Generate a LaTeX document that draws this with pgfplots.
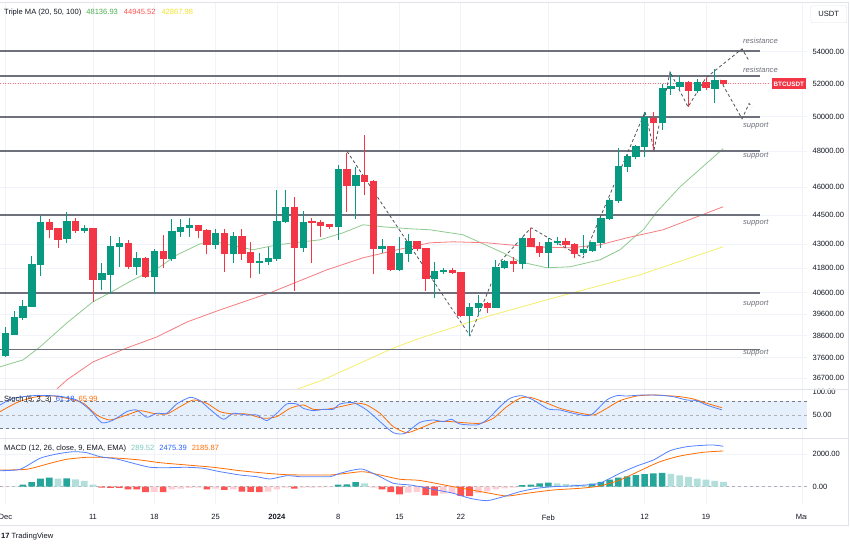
\documentclass[border=0pt]{standalone}
\usepackage{pgfplots}
\pgfplotsset{compat=1.18}
\usepackage{pgfplotstable}
\usepackage{fontspec}
\setmainfont{Liberation Sans}

\definecolor{bull}{HTML}{089981}
\definecolor{bear}{HTML}{F23645}
\definecolor{tvgrid}{HTML}{F0F3FA}
\definecolor{tvline}{HTML}{E0E3EB}
\definecolor{tvtext}{HTML}{131722}
\definecolor{tvgray}{HTML}{787B86}
\definecolor{srline}{HTML}{6E717B}
\definecolor{zigzag}{HTML}{50535E}
\definecolor{ma20}{HTML}{8FCB8F}
\definecolor{ma50}{HTML}{F77C80}
\definecolor{ma100}{HTML}{F5EE6A}
\definecolor{legG}{HTML}{4CAF50}
\definecolor{legR}{HTML}{FF5252}
\definecolor{legY}{HTML}{F2E22E}
\definecolor{kblue}{HTML}{2962FF}
\definecolor{dorange}{HTML}{FF6D00}
\definecolor{hteal}{HTML}{26A69A}
\definecolor{hteallt}{HTML}{B2DFDB}
\definecolor{hred}{HTML}{FF5252}
\definecolor{hredlt}{HTML}{FFCDD2}
\definecolor{band}{HTML}{E6F0FC}

% daily BTCUSDT candles, d = days since 1 Dec 2023
\pgfplotstableread{
d o h l c
0 37730 39000 37640 38725
1 38679 39745 38633 39465
2 39465 40266 39325 39980
3 39980 42415 39935 41965
4 41965 44467 41425 44103
5 44103 44311 43327 43739
6 43791 43843 42819 43225
7 43276 44680 43072 44155
8 44155 44364 43584 43687
9 43687 43999 43584 43791
10 43791 43843 40171 41229
11 41229 42065 40744 41523
12 41474 43430 40553 42870
13 42870 43379 41868 43021
14 43021 43225 41768 41868
15 41868 42616 41474 42265
16 42265 42365 41327 41376
17 41376 42768 40553 42616
18 42616 43482 41818 42265
19 42265 44311 42165 43635
20 43635 44311 43379 43843
21 43843 44364 43379 43947
22 43947 43999 43327 43687
23 43687 43791 42515 42971
24 42971 43791 42768 43533
25 43533 43791 41621 42515
26 42515 43635 42065 43379
27 43379 43791 42215 42515
28 42566 43123 41327 42065
29 42065 42566 41523 42115
30 42115 42870 41965 42265
31 42265 45856 42165 44155
32 44155 45856 44103 44891
33 44891 45478 40696 42819
34 42819 44732 42616 44103
35 44155 44364 42065 44103
36 44103 44259 43379 43947
37 43999 44051 43791 43895
38 43895 47232 43225 46953
39 46953 47907 44680 46074
40 46074 47119 44311 46622
41 46622 48934 45586 46293
42 46293 46402 41523 42768
43 42768 43276 42566 42870
44 42870 42920 41670 41719
45 41719 43379 41670 42515
46 42515 43533 42115 43123
47 43123 43174 42667 42768
48 42768 42819 40696 41278
49 41278 42115 40361 41621
50 41621 41818 41523 41670
51 41670 41818 41523 41572
52 41572 41621 39465 39558
53 39558 40123 38588 39887
54 39887 40505 39558 40075
55 40075 40171 39651 39935
56 39935 42215 39887 41818
57 41818 42215 41768 42115
58 42115 42365 41621 42015
59 42015 43379 41768 43276
60 43276 43843 42870 42870
61 42870 43123 42365 42566
62 42566 43327 41818 43072
63 43072 43379 42971 43123
64 43123 43327 42870 42971
65 42971 43072 42315 42515
66 42566 43482 42465 42717
67 42667 43123 42616 43072
68 43072 44415 42819 44311
69 44311 45426 44259 45264
70 45264 48191 45157 47119
71 47119 47850 46843 47680
72 47680 48363 47567 48248
73 48248 50285 47680 49931
74 49871 50285 48077 49635
75 49635 51978 49226 51671
76 51671 52720 51307 51794
77 51794 52472 51610 52040
78 52040 52162 50581 51549
79 51549 52285 51427 52040
80 52040 52347 51610 51732
81 51671 52907 50824 52162
82 52162 52223 51916 51978
}\candles

\begin{document}
\begin{tikzpicture}[x=1bp,y=1bp]
\fill[white] (0,0) rectangle (850,546);
\path[use as bounding box] (0,0) rectangle (850,546);

% ---------- price pane ----------
\begin{axis}[
  at={(0bp,157bp)}, anchor=south west,
  width=807bp, height=386bp, scale only axis,
  ymode=log, ymin=36245, ymax=57200,
  xmin=-0.62, xmax=91.54,
  axis line style={draw=none},
  xtick={0,10,17,24,31,38,45,52,62,73,80,91}, xticklabels={},
  ytick={36700,37600,38600,39600,40600,41800,43000,44500,46000,48000,50000,52000,54000},
  yticklabels={36700.00,37600.00,38600.00,39600.00,40600.00,41800.00,43000.00,44500.00,46000.00,48000.00,50000.00,52000.00,54000.00},
  yticklabel pos=right,
  yticklabel style={anchor=west, xshift=2bp, font=\fontsize{7.6}{8}\selectfont, text=tvtext},
  yminorticks=false, minor tick num=0,
  major tick length=0pt,
  grid=major, major grid style={tvgrid, line width=0.7bp},
  clip mode=individual,
]
% moving averages
\addplot[ma20, line width=0.8bp] coordinates {
(-0.62,37200) (2.01,37509) (3.95,38090) (7.03,39185) (10.0,40171) (11.94,40600)
(14.57,41229) (17.65,41868) (19.6,42465) (22.22,43021) (24.51,43072) (28.27,42717)
(31.02,42971) (35.93,43225) (38.55,43584) (40.84,43999) (43.12,43895) (46.2,43791)
(48.49,43739) (52.26,43482) (56.83,42566) (58.77,42115) (61.85,41818) (64.47,41868)
(67.9,42215) (70.18,42717) (72.12,43482) (72.85,43739) (74.4,44680) (77.04,46019) (81.95,48137)};
\addplot[ma50, line width=0.8bp] coordinates {
(5.89,36245) (7.03,36633) (10.0,37420) (13.89,38045) (17.31,38542) (20.74,39232)
(24.51,39792) (30.22,40600) (36.72,41719) (40.84,42315) (44.72,42717) (48.49,43072)
(51.11,43123) (55.0,43072) (59.91,42870) (64.47,42819) (67.9,42971) (70.98,43327)
(75.1,43739) (78.18,44276) (81.95,44945)};
\addplot[ma100, line width=0.8bp] coordinates {
(33.41,36245) (36.27,36633) (44.26,38030) (47.35,38483) (54.96,39480) (62.57,40348)
(72.47,41474) (81.95,42868)};
% support / resistance levels
\addplot[srline, line width=1.6bp] coordinates {(-0.62,54050) (86.17,54050)};
\addplot[srline, line width=1.6bp] coordinates {(-0.62,52470) (86.17,52470)};
\addplot[srline, line width=1.6bp] coordinates {(-0.62,49990) (86.17,49990)};
\addplot[srline, line width=1.6bp] coordinates {(-0.62,48000) (86.17,48000)};
\addplot[srline, line width=1.6bp] coordinates {(-0.62,44500) (86.17,44500)};
\addplot[srline, line width=1.6bp] coordinates {(-0.62,40600) (86.17,40600)};
\addplot[srline, line width=1.6bp] coordinates {(-0.62,37970) (86.17,37970)};
% last price line
\addplot[bear!70, line width=0.8bp, dash pattern=on 1bp off 1.5bp] coordinates {(-0.62,51978) (87.2,51978)};
% swing path and projections
\addplot[zigzag, line width=0.8bp, dash pattern=on 3bp off 2.5bp] coordinates {
(39.01,47990) (53.05,38588) (56.48,42115) (60.02,43843) (65.96,42315) (73.04,50285)
(74.07,48077) (75.9,52720) (77.95,50581) (80.0,52347) (84.12,54172) (84.92,53410)};
\addplot[zigzag, line width=0.8bp, dash pattern=on 3bp off 2.5bp] coordinates {
(81.6,52223) (84.12,49872) (84.92,50780) (85.26,50581)};
% candles
\pgfplotstablegetrowsof{\candles}
\pgfmathtruncatemacro\nrows{\pgfplotsretval-1}
\pgfplotsforeachungrouped \i in {0,...,\nrows}{%
  \pgfplotstablegetelem{\i}{d}\of\candles \let\cD\pgfplotsretval
  \pgfplotstablegetelem{\i}{o}\of\candles \let\cO\pgfplotsretval
  \pgfplotstablegetelem{\i}{h}\of\candles \let\cH\pgfplotsretval
  \pgfplotstablegetelem{\i}{l}\of\candles \let\cL\pgfplotsretval
  \pgfplotstablegetelem{\i}{c}\of\candles \let\cC\pgfplotsretval
  \ifnum\cC<\cO\relax \def\ccol{bear}\else\def\ccol{bull}\fi
  \pgfmathsetmacro\xa{\cD-0.36}%
  \pgfmathsetmacro\xb{\cD+0.36}%
  \edef\doit{%
    \noexpand\addplot[\ccol, line width=0.9bp, forget plot] coordinates {(\cD,\cL) (\cD,\cH)};
    \noexpand\addplot[fill=\ccol, draw=\ccol, line width=0.7bp, forget plot] coordinates {(\xa,\cO) (\xb,\cO) (\xb,\cC) (\xa,\cC)} --cycle;
  }\doit
}
% level labels
\begin{scope}[every node/.style={anchor=west, inner sep=0pt, text=srline, font=\fontsize{7.6}{8}\selectfont\itshape}]
\node at (axis cs:84.23,54684) {resistance};
\node at (axis cs:84.23,52845) {resistance};
\node at (axis cs:84.23,49461) {support};
\node at (axis cs:84.23,47737) {support};
\node at (axis cs:84.23,44103) {support};
\node at (axis cs:84.23,40076) {support};
\node at (axis cs:84.23,37820) {support};
\end{scope}
\node[anchor=east, fill=bear, text=white, inner sep=1.5bp, font=\fontsize{6.4}{6.4}\selectfont\bfseries, minimum height=11bp]
  at (axis cs:91.4,51978) {BTCUSDT};
\end{axis}

% ---------- stochastic pane ----------
\begin{axis}[
  at={(0bp,108bp)}, anchor=south west,
  width=807bp, height=49bp, scale only axis,
  xmin=-0.62, xmax=91.54, ymin=0, ymax=106.5,
  axis line style={draw=none},
  xtick={0,10,17,24,31,38,45,52,62,73,80,91}, xticklabels={},
  ytick={50,100}, yticklabels={50.00,100.00},
  yticklabel pos=right,
  yticklabel style={anchor=west, xshift=2bp, font=\fontsize{7.6}{8}\selectfont, text=tvtext},
  major tick length=0pt,
  xmajorgrids, major grid style={tvgrid, line width=0.7bp},
]
\addplot[fill=band, draw=none] coordinates {(-0.62,20) (91.54,20) (91.54,80) (-0.62,80)} --cycle;
\addplot[tvgray, line width=0.7bp, dash pattern=on 3bp off 3bp] coordinates {(-0.62,80) (91.54,80)};
\addplot[tvgray!60, line width=0.6bp, dash pattern=on 3bp off 3bp] coordinates {(-0.62,50) (91.54,50)};
\addplot[tvgray, line width=0.7bp, dash pattern=on 3bp off 3bp] coordinates {(-0.62,20) (91.54,20)};
\addplot[dorange, line width=0.8bp, smooth, tension=0.4] coordinates {
(-0.62,57.2) (1.29,76.8) (3.19,88.4) (5.09,92) (7.0,86.3) (8.9,75.4) (10.43,50) (11.94,39.1)
(13.85,50) (15.37,59.4) (16.89,53.6) (18.42,52.2) (19.94,68) (21.46,82.6) (22.99,75.4)
(24.51,57.2) (26.02,52.2) (27.55,52.2) (29.45,42.8) (30.98,46.4) (32.5,64.5) (34.02,71.7)
(35.16,62.3) (36.69,62.3) (38.21,68) (40.12,75.4) (41.26,71.7) (42.78,53.6) (44.3,24.6)
(45.83,11.5) (47.34,21.1) (49.25,35.5) (50.96,35.5) (52.29,33.3) (54.2,31.9) (55.71,42.8)
(57.25,68) (58.76,86.3) (59.91,88.4) (61.43,78.9) (63.33,64.5) (64.85,57.2) (67.14,50)
(68.67,64.5) (70.18,81.2) (72.09,91.3) (73.99,93.5) (75.52,92) (77.04,89.8) (78.56,84.8)
(80.08,75.4) (81.8,66)};
\addplot[kblue!80, line width=0.8bp, smooth, tension=0.4] coordinates {
(-0.62,71.7) (0.9,86.3) (3.19,92) (5.86,91.3) (8.14,82.6) (9.66,60.9) (11.0,33.3) (12.32,39.1)
(13.85,57.2) (14.99,60.9) (16.14,45) (17.28,53.6) (18.42,53.6) (19.56,73.9) (21.08,88.4)
(22.22,81.2) (23.36,62.3) (24.88,40.6) (26.02,53.6) (27.55,50) (28.7,50) (29.84,37.7)
(30.98,53.6) (32.12,73.9) (33.27,73.9) (34.02,64.5) (35.16,59.4) (36.3,62.3) (37.44,62.3)
(38.21,73.9) (39.73,76.8) (41.26,60.9) (42.78,35.5) (44.3,11.5) (45.63,10.1) (47.34,34)
(48.86,39.1) (50.01,35.5) (50.96,40.6) (51.91,30.4) (53.82,28.3) (54.96,39.1) (56.48,68)
(57.62,86.3) (58.96,92) (60.29,82.6) (62.0,63) (63.33,60.9) (64.85,53.6) (66.38,48.5)
(67.14,53.6) (68.67,82.6) (69.81,92) (70.95,91.3) (72.85,93.5) (74.75,92.8) (76.27,89.8)
(77.8,82.6) (78.94,81.2) (80.08,71.7) (81.8,61.2)};
\end{axis}

% ---------- MACD pane ----------
\begin{axis}[
  at={(0bp,42bp)}, anchor=south west,
  width=807bp, height=66bp, scale only axis,
  xmin=-0.62, xmax=91.54, ymin=-1059, ymax=2980,
  axis line style={draw=none},
  xtick={0,10,17,24,31,38,45,52,62,73,80,91},
  xticklabels={Dec,11,18,25,\textbf{2024},8,15,22,Feb,12,19,Mar},
  xticklabel style={yshift=-7bp, font=\fontsize{7.6}{8}\selectfont, text=tvtext},
  ytick={0,2000}, yticklabels={0.00,2000.00},
  yticklabel pos=right,
  yticklabel style={anchor=west, xshift=2bp, font=\fontsize{7.6}{8}\selectfont, text=tvtext},
  major tick length=0pt,
  grid=major, major grid style={tvgrid, line width=0.7bp},
]
\addplot[tvgray!60, line width=0.6bp, dash pattern=on 3bp off 3bp] coordinates {(-0.62,0) (91.54,0)};
\addplot[ybar, bar width=6.6bp, bar shift=0pt, fill=hteal, draw=none] coordinates {
(2,120) (3,285) (4,490) (5,550) (7,510) (38,120) (39,140) (40,280) (59,100) (60,130) (61,200)
(62,250) (67,180) (68,300) (69,430) (70,560) (71,630) (72,710) (73,770) (74,820) (75,840)};
\addplot[ybar, bar width=6.6bp, bar shift=0pt, fill=hteallt, draw=none] coordinates {
(1,20) (6,490) (8,450) (9,350) (10,120) (41,200) (63,210) (64,170) (65,130) (66,110)
(76,790) (77,700) (78,600) (79,500) (80,430) (81,360) (82,290)};
\addplot[ybar, bar width=6.6bp, bar shift=0pt, fill=hred, draw=none] coordinates {
(11,-60) (12,-70) (13,-80) (14,-160) (15,-170) (16,-330) (18,-340) (23,-160) (25,-200)
(27,-300) (28,-310) (29,-330) (33,-120) (43,-160) (44,-330) (45,-470) (48,-510) (49,-540)
(52,-560) (53,-580)};
\addplot[ybar, bar width=6.6bp, bar shift=0pt, fill=hredlt, draw=none] coordinates {
(0,-30) (17,-320) (19,-160) (20,-120) (21,-80) (22,-60) (24,-120) (26,-160) (30,-300)
(31,-160) (32,-60) (34,-60) (35,-50) (36,-40) (37,-20) (42,-60) (46,-370) (47,-330)
(50,-420) (51,-400) (54,-400) (55,-280) (56,-170) (57,-100) (58,-50)};
\addplot[dorange, line width=0.8bp, smooth, tension=0.4] coordinates {
(-0.62,1022) (2.43,1065) (5.09,1432) (7.0,1677) (9.28,1799) (10.8,1799) (13.09,1738)
(15.37,1634) (17.65,1469) (20.7,1328) (23.74,1187) (26.79,979) (29.84,820) (32.12,734)
(34.41,716) (37.07,716) (38.97,820) (40.87,918) (42.78,716) (45.06,453) (47.34,380)
(51.15,0) (54.96,-367) (57.25,-569) (59.53,-404) (62.57,-202) (65.61,-98) (67.9,43)
(70.18,410) (72.47,979) (74.75,1530) (77.04,1879) (79.7,2105) (81.98,2186)};
\addplot[kblue!80, line width=0.8bp, smooth, tension=0.4] coordinates {
(-0.62,979) (1.67,1065) (3.95,1738) (5.86,2001) (7.75,2142) (9.28,2081) (10.8,1836)
(12.7,1695) (14.6,1432) (16.51,1187) (18.42,1163) (20.7,1187) (22.6,1126) (24.51,918)
(26.79,716) (28.7,612) (30.22,471) (32.12,673) (33.64,612) (35.55,612) (37.07,612)
(38.21,820) (39.73,1022) (40.87,1065) (42.78,612) (44.3,208) (46.2,104) (47.34,0)
(49.25,-202) (51.15,-404) (53.05,-710) (54.96,-857) (56.86,-612) (58.76,-306) (60.67,-98)
(62.57,0) (64.47,43) (67.52,165) (68.67,410) (70.18,820) (72.09,1267) (74.0,1634)
(75.9,2203) (77.8,2448) (79.7,2534) (80.84,2552) (81.98,2475)};
\end{axis}

% ---------- frame, separators, legends ----------
\fill[white] (807,21) rectangle (849,41);
\draw[tvline, line width=0.8bp] (0,157) -- (849,157);
\draw[tvline, line width=0.8bp] (0,108) -- (849,108);
\draw[tvline, line width=0.8bp] (0,21) -- (849,21);
\draw[tvline, line width=0.8bp] (0,543.5) -- (849,543.5);
\draw[tvline, line width=0.8bp] (848.5,21) -- (848.5,543.5);

\node[anchor=west, inner sep=0pt, font=\fontsize{7.6}{8}\selectfont, text=tvtext] at (4,533)
  {Triple MA (20, 50, 100)\hspace{5bp}\textcolor{legG}{48136.93}\hspace{6bp}\textcolor{legR}{44945.52}\hspace{6bp}\textcolor{legY}{42867.98}};
\node[anchor=west, inner sep=0pt, font=\fontsize{7.6}{8}\selectfont, text=tvtext] at (4,146)
  {Stoch (5, 3, 3)\hspace{4bp}\textcolor{kblue}{61.18}\hspace{4bp}\textcolor{dorange}{65.99}};
\node[anchor=west, inner sep=0pt, font=\fontsize{7.6}{8}\selectfont, text=tvtext] at (4,97)
  {MACD (12, 26, close, 9, EMA, EMA)\hspace{5bp}\textcolor{hteal!60}{289.52}\hspace{5bp}\textcolor{kblue}{2475.39}\hspace{5bp}\textcolor{dorange}{2185.87}};

\node[draw=tvline, rounded corners=2bp, minimum width=36bp, minimum height=17bp, inner sep=0pt,
  font=\fontsize{7.6}{8}\selectfont, text=tvtext] at (828.7,531.7) {USDT};

\node[anchor=west, inner sep=0pt, font=\fontsize{7.6}{8}\selectfont, text=tvtext] at (1,9)
  {{\bfseries 17}\hspace{2bp}TradingView};
\end{tikzpicture}
\end{document}
